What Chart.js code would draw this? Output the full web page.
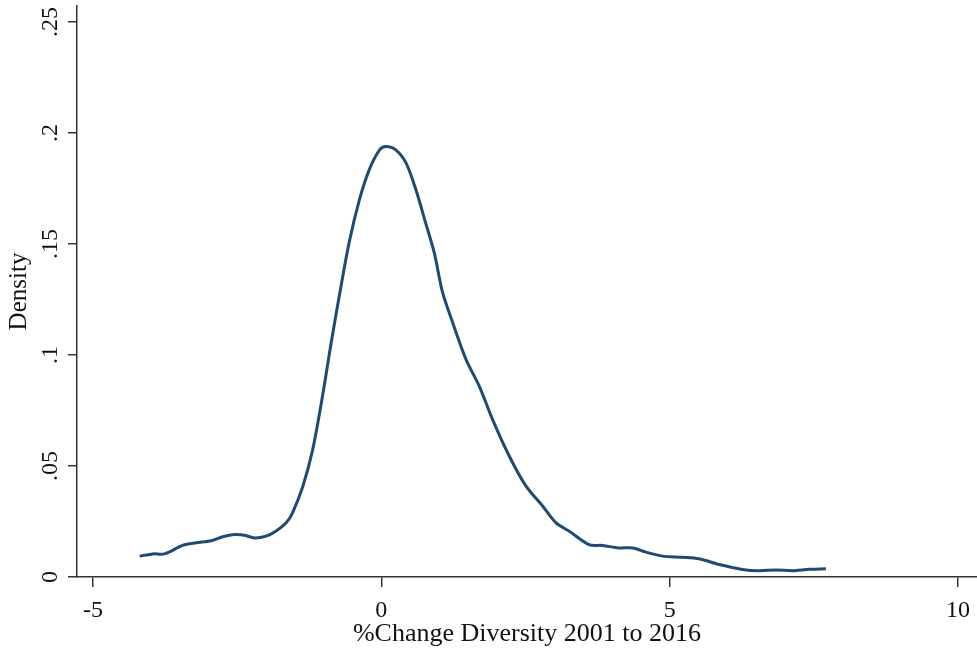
<!DOCTYPE html>
<html>
<head>
<meta charset="utf-8">
<script src="https://cdn.jsdelivr.net/npm/chart.js@4.4.0/dist/chart.umd.min.js"></script>
<style>
  html, body { margin: 0; padding: 0; background: #fff; }
  #wrap { width: 977px; height: 654px; position: relative; }
</style>
</head>
<body>
<div id="wrap"><canvas id="densityChart"></canvas></div>
<script>
// data
var changeValues = [-4.19, -3.96, -3.76, -3.44, -3.21, -2.95, -2.75, -2.55, -2.37, -2.20,
    -2.00, -1.83, -1.65, -1.54, -1.36, -1.19, -1.02, -0.87, -0.73, -0.56,
    -0.38, -0.21, -0.03, 0.08, 0.25, 0.43, 0.60, 0.77, 0.92, 1.06,
    1.24, 1.47, 1.70, 1.93, 2.22, 2.51, 2.80, 3.03, 3.26, 3.60,
    3.84, 4.12, 4.36, 4.59, 4.88, 5.22, 5.51, 5.86, 6.26, 6.55,
    6.84, 7.13, 7.42, 7.71];
var densityValues = [0.0094, 0.0104, 0.0104, 0.0143, 0.0154, 0.0163, 0.0181, 0.0191, 0.0188, 0.0176,
    0.0184, 0.0206, 0.0244, 0.0289, 0.0409, 0.0574, 0.0814, 0.1054, 0.1264, 0.1504,
    0.1699, 0.1834, 0.1924, 0.1939, 0.1924, 0.1864, 0.1744, 0.1594, 0.1459, 0.1284,
    0.1144, 0.0979, 0.0859, 0.0709, 0.0544, 0.0409, 0.0319, 0.0244, 0.0206, 0.0146,
    0.0142, 0.0131, 0.0131, 0.0112, 0.0094, 0.0089, 0.0082, 0.0056, 0.0034, 0.0028,
    0.0032, 0.0028, 0.0035, 0.0037];
var xTicks = [-5, 0, 5, 10];
var yTicks = [0, 0.05, 0.1, 0.15, 0.2, 0.25];
var yTickLabels = ['0', '.05', '.1', '.15', '.2', '.25'];

var serif = 'Liberation Serif';
var axisColor = '#333';

var points = changeValues.map(function (x, i) {
    return { x: x, y: densityValues[i] };
});

new Chart(document.getElementById('densityChart'), {
    type: 'scatter',
    data: {
        datasets: [{
            data: points,
            showLine: true,
            borderColor: '#1f4a73',
            borderWidth: 3,
            pointRadius: 0,
            tension: 0.3,
            fill: false
        }]
    },
    options: {
        responsive: true,
        maintainAspectRatio: false,
        animation: false,
        layout: { padding: { top: 6, right: 0, left: 0, bottom: 0 } },
        plugins: {
            legend: { display: false },
            tooltip: { enabled: false }
        },
        scales: {
            x: {
                type: 'linear',
                min: -5.277,
                max: 10.33,
                afterBuildTicks: function (scale) {
                    scale.ticks = xTicks.map(function (v) { return { value: v }; });
                },
                afterFit: function (scale) {
                    scale.height = 77;
                    scale.paddingLeft = 0;
                    scale.paddingRight = 0;
                },
                grid: { drawOnChartArea: false, drawTicks: true, tickLength: 10, color: axisColor, lineWidth: 1.5 },
                border: { display: true, color: axisColor, width: 1.5 },
                ticks: {
                    color: '#111',
                    font: { family: serif, size: 24 },
                    maxRotation: 0,
                    padding: 9,
                    callback: function (v) { return String(v); }
                },
                title: {
                    display: true,
                    text: '%Change Diversity 2001 to 2016',
                    color: '#111',
                    font: { family: serif, size: 26 },
                    padding: { top: 0, bottom: 4 }
                }
            },
            y: {
                type: 'linear',
                min: 0,
                max: 0.2572,
                afterBuildTicks: function (scale) {
                    scale.ticks = yTicks.map(function (v) { return { value: v }; });
                },
                afterFit: function (scale) {
                    scale.width = 77;
                    scale.paddingTop = 0;
                    scale.paddingBottom = 0;
                },
                grid: { drawOnChartArea: false, drawTicks: true, tickLength: 9, color: axisColor, lineWidth: 1.5 },
                border: { display: true, color: axisColor, width: 1.5 },
                ticks: {
                    color: '#111',
                    font: { family: serif, size: 24 },
                    minRotation: 90,
                    maxRotation: 90,
                    crossAlign: 'center',
                    padding: 2,
                    callback: function (v) {
                        var i = yTicks.indexOf(v);
                        return i >= 0 ? yTickLabels[i] : '';
                    }
                },
                title: {
                    display: true,
                    text: 'Density',
                    color: '#111',
                    font: { family: serif, size: 25 },
                    padding: { top: 4, bottom: 0 }
                }
            }
        }
    }
});
</script>
</body>
</html>
